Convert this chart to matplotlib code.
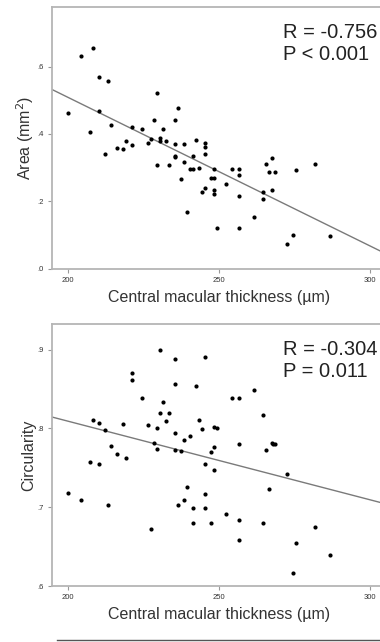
import numpy as np
import matplotlib
matplotlib.use('Agg')
import matplotlib.pyplot as plt
from matplotlib.lines import Line2D

plt.rcParams['font.family'] = ['Liberation Sans', 'DejaVu Sans']

# central macular thickness (um) vs FAZ area (mm2)
area_cmt = [200, 204.1, 208.2, 210.2, 213.2, 207.2, 210.2, 212.3, 214.2, 216.2,
            218.2, 219.2, 221.2, 221.2, 224.3, 226.3, 227.3, 228.3, 229.3, 229.3,
            230.3, 230.3, 231.3, 232.3, 233.3, 235.3, 235.3, 235.3, 235.3, 236.3,
            237.3, 238.3, 238.3, 239.3, 240.3, 241.3, 241.3, 242.3, 243.4, 244.4,
            245.4, 245.4, 245.4, 245.4, 247.4, 248.4, 248.4, 248.4, 248.4, 249.3,
            252.4, 254.4, 256.4, 256.4, 256.4, 256.4, 261.4, 264.4, 264.4, 265.4,
            266.5, 267.4, 267.4, 268.5, 272.5, 274.5, 275.5, 281.6, 286.6]
area = [0.461, 0.632, 0.656, 0.568, 0.558, 0.407, 0.467, 0.340, 0.427, 0.358,
        0.354, 0.378, 0.421, 0.367, 0.414, 0.372, 0.386, 0.442, 0.522, 0.307,
        0.388, 0.380, 0.416, 0.378, 0.309, 0.442, 0.371, 0.336, 0.331, 0.477,
        0.266, 0.371, 0.317, 0.168, 0.295, 0.334, 0.295, 0.382, 0.299, 0.228,
        0.239, 0.341, 0.362, 0.372, 0.270, 0.297, 0.270, 0.234, 0.222, 0.121,
        0.252, 0.295, 0.297, 0.279, 0.216, 0.122, 0.154, 0.227, 0.208, 0.310,
        0.287, 0.328, 0.234, 0.287, 0.072, 0.100, 0.292, 0.310, 0.097]

# central macular thickness (um) vs circularity
circ_cmt = [200, 204.1, 207.2, 208.2, 210.2, 210.2, 212.3, 213.2, 214.2, 216.2,
            218.2, 219.2, 221.2, 221.2, 224.3, 226.3, 227.3, 228.3, 229.3, 229.3,
            230.3, 230.3, 231.3, 232.3, 233.3, 235.3, 235.3, 235.3, 235.3, 236.3,
            237.3, 238.3, 238.3, 239.3, 240.3, 241.3, 241.3, 242.3, 243.4, 244.4,
            245.4, 245.4, 245.4, 245.4, 247.4, 247.4, 248.4, 248.4, 248.4, 249.3,
            252.4, 254.4, 256.4, 256.4, 256.4, 256.4, 261.4, 264.4, 264.4, 265.4,
            266.5, 267.4, 267.8, 268.5, 272.5, 275.5, 281.6, 274.5, 286.6]
circ = [0.718, 0.709, 0.758, 0.811, 0.807, 0.755, 0.798, 0.703, 0.778, 0.768,
        0.806, 0.763, 0.870, 0.861, 0.838, 0.804, 0.672, 0.782, 0.801, 0.774,
        0.820, 0.899, 0.834, 0.809, 0.820, 0.888, 0.856, 0.794, 0.773, 0.703,
        0.771, 0.785, 0.709, 0.726, 0.790, 0.699, 0.680, 0.854, 0.811, 0.799,
        0.891, 0.755, 0.717, 0.699, 0.770, 0.680, 0.777, 0.747, 0.802, 0.800,
        0.692, 0.838, 0.839, 0.780, 0.684, 0.658, 0.849, 0.817, 0.680, 0.773,
        0.723, 0.781, 0.780, 0.780, 0.742, 0.654, 0.675, 0.616, 0.639]

fig = plt.figure(figsize=(3.8, 6.42), dpi=100)
ax1 = fig.add_axes([0.1368, 0.5815, 0.877, 0.4076])
ax2 = fig.add_axes([0.1368, 0.0872, 0.877, 0.4081])


def panel(ax, x, y, ylim, yticks, yticklabels, ylabel, r_text):
    ax.scatter(x, y, s=9, color='black', linewidths=0, zorder=3)
    # least squares line
    k, b = np.polyfit(x, y, 1)
    xs = np.array([190, 310])
    ax.plot(xs, k * xs + b, color='#7a7a7a', lw=1.0, zorder=2)
    ax.set_xlim(194.6, 305)
    ax.set_ylim(*ylim)
    ax.set_xticks([200, 250, 300])
    ax.set_yticks(yticks)
    ax.set_yticklabels(yticklabels)
    ax.tick_params(labelsize=5.5, length=3, width=0.8, color='#999999',
                   labelcolor='#333333', pad=3)
    for s in ax.spines.values():
        s.set_color('#b5b5b5')
        s.set_linewidth(1.3)
    ax.set_xlabel('Central macular thickness (µm)', fontsize=11.5,
                  color='#333333', labelpad=4)
    ax.set_ylabel(ylabel, fontsize=11.5, color='#333333', labelpad=1)
    ax.text(0.694, 0.94, r_text, transform=ax.transAxes, fontsize=14.5,
            ha='left', va='top', linespacing=1.25, color='#222222')


panel(ax1, area_cmt, area, (0, 0.777), [0, 0.2, 0.4, 0.6],
      ['.0', '.2', '.4', '.6'], 'Area (mm$^2$)', 'R = -0.756\nP < 0.001')
panel(ax2, circ_cmt, circ, (0.6, 0.9325), [0.6, 0.7, 0.8, 0.9],
      ['.6', '.7', '.8', '.9'], 'Circularity', 'R = -0.304\nP = 0.011')

fig.add_artist(Line2D([0.15, 1.0], [0.0035, 0.0035], color='#555555', lw=1.0))

fig.savefig('out.png', dpi=100)
